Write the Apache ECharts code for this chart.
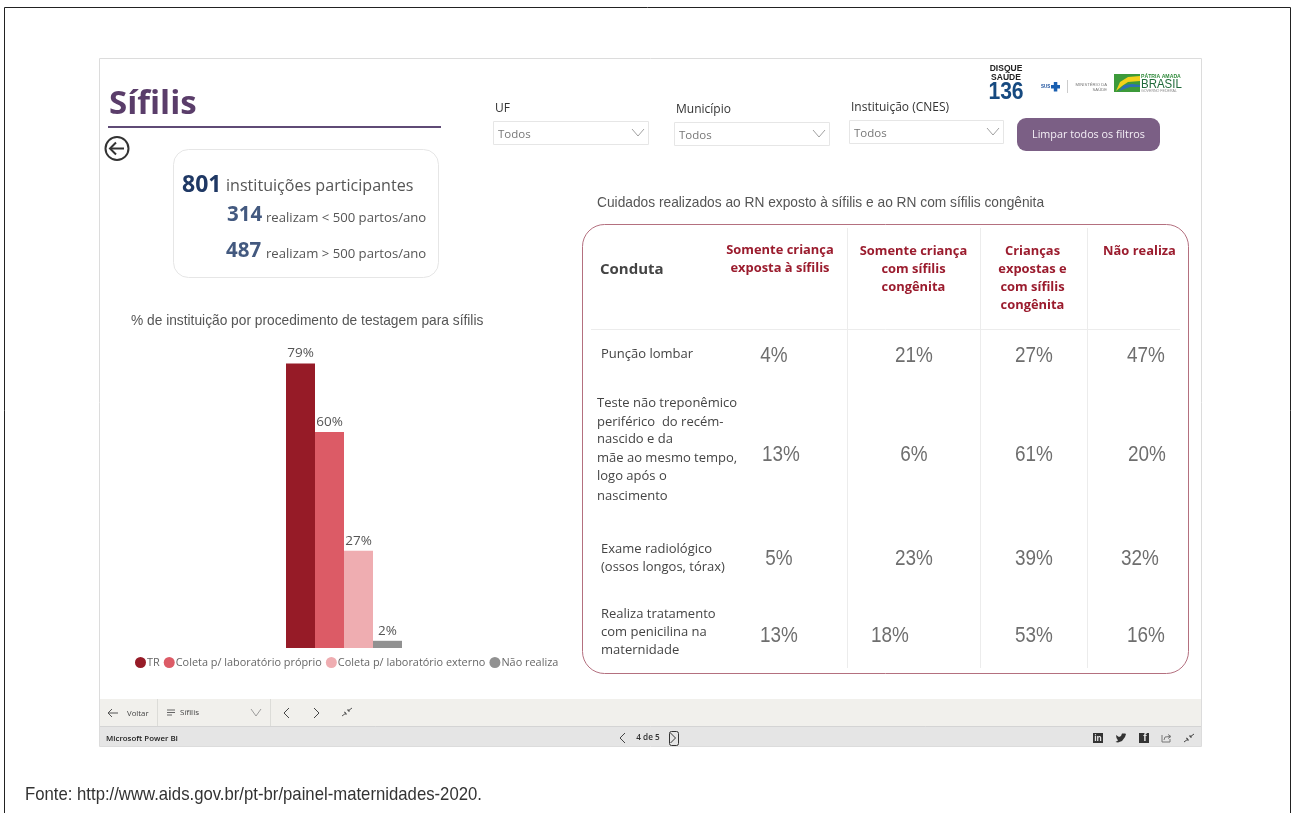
<!DOCTYPE html>
<html lang="pt-BR">
<head>
<meta charset="utf-8">
<title>Sífilis</title>
<script src="https://cdn.jsdelivr.net/npm/echarts@6/dist/echarts.min.js"></script>
<style>
  html, body { margin: 0; padding: 0; background: #fff; }
  #chart { width: 1292px; height: 813px; }
</style>
</head>
<body>
<div id="chart"></div>
<script>
// Procedimentos de testagem
const testCategories = ['Testagem'];
const testNames = ['TR', 'Coleta p/ laboratório próprio', 'Coleta p/ laboratório externo', 'Não realiza'];
const testValues = [79, 60, 27, 2];
const testColors = ['#961b27', '#dc5b66', '#efadb1', '#919191'];

// Cuidados ao RN
const careHeaders = [
  ['Somente criança', 'exposta à sífilis'],
  ['Somente criança', 'com sífilis', 'congênita'],
  ['Crianças', 'expostas e', 'com sífilis', 'congênita'],
  ['Não realiza']
];
const careRows = [
  ['Punção lombar'],
  ['Teste não treponêmico', 'periférico  do recém-', 'nascido e da', 'mãe ao mesmo tempo,', 'logo após o', 'nascimento'],
  ['Exame radiológico', '(ossos longos, tórax)'],
  ['Realiza tratamento', 'com penicilina na', 'maternidade']
];
const careValues = [
  [4, 21, 27, 47],
  [13, 6, 61, 20],
  [5, 23, 39, 32],
  [13, 18, 53, 16]
];

// Painel
const filterLabels = ['UF', 'Município', 'Instituição (CNES)'];
const filterValue = 'Todos';
const totalCount = 801;
const smallCount = 314;
const largeCount = 487;

const SANS = '"Open Sans", sans-serif';
const ARIAL = '"Liberation Sans", sans-serif';

const els = [];
function txt(x, y, text, size, fill, opts) {
  const o = opts || {};
  // Open Sans sits slightly high in its line box
  const dy = o.family ? 0 : 1;
  els.push({
    type: 'text', silent: true, z: o.z || 5,
    x, y: y + dy, scaleX: o.scaleX || 1,
    style: {
      x: 0, y: 0, text, fill,
      font: (o.weight || 'normal') + ' ' + size + 'px ' + (o.family || SANS),
      textAlign: o.align || 'left', textVerticalAlign: 'middle'
    }
  });
}
function box(x, y, w, h, fill, stroke, r, lw, z) {
  els.push({
    type: 'rect', silent: true, z: z || 1,
    shape: { x, y, width: w, height: h, r: r || 0 },
    style: { fill: fill || 'none', stroke: stroke || 'none', lineWidth: lw || 1 }
  });
}
function seg(x1, y1, x2, y2, stroke, lw, z) {
  els.push({
    type: 'line', silent: true, z: z || 2,
    shape: { x1, y1, x2, y2 },
    style: { stroke, lineWidth: lw || 1 }
  });
}
function poly(points, stroke, lw) {
  els.push({
    type: 'polyline', silent: true, z: 3,
    shape: { points },
    style: { stroke, lineWidth: lw || 1, fill: 'none' }
  });
}
function shape(points, fill) {
  els.push({ type: 'polygon', silent: true, z: 3, shape: { points }, style: { fill } });
}
function chevronDown(cx, cy, half) {
  const h = half || 6;
  poly([[cx - h, cy - 4], [cx, cy + 3], [cx + h, cy - 4]], '#888', 0.8);
}
function chevronLeft(cx, cy, c) { poly([[cx + 3, cy - 5], [cx - 2, cy], [cx + 3, cy + 5]], c || '#444', 1); }
function chevronRight(cx, cy, c) { poly([[cx - 3, cy - 5], [cx + 2, cy], [cx - 3, cy + 5]], c || '#444', 1); }
function collapseIcon(cx, cy, c) {
  seg(cx - 5, cy + 4, cx - 1, cy + 1, c, 1, 3);
  seg(cx + 1, cy - 1, cx + 5, cy - 4, c, 1, 3);
  poly([[cx - 3, cy + 0], [cx - 1, cy + 1], [cx - 1, cy + 3]], c, 1);
  poly([[cx + 1, cy - 3], [cx + 1, cy - 1], [cx + 3, cy - 1]], c, 1);
}

// Moldura externa e relatório
box(4.5, 7.5, 1286, 830, '#fff', '#222', 0, 1, 0);
box(99.5, 58.5, 1102, 688, '#fff', '#dcdcdc', 0, 1, 0);
box(100, 699, 1101, 27, '#f1f0ec');
box(100, 726, 1101, 20, '#e5e5e5');
seg(100, 726.5, 1201, 726.5, '#d4d4d4');

// Título
txt(109, 104, 'Sífilis', 33, '#5a3d6a', { weight: 'bold' });
seg(108, 127, 441, 127, '#5f4b76', 2);
els.push({ type: 'circle', silent: true, z: 3, shape: { cx: 117, cy: 148.5, r: 11.5 }, style: { fill: 'none', stroke: '#333', lineWidth: 2 } });
seg(110, 148.5, 124, 148.5, '#333', 2, 3);
poly([[116, 142.5], [110, 148.5], [116, 154.5]], '#333', 2);

// Cartão de totais
box(173.5, 149.5, 265, 128, '#fff', '#e6e6e6', 15);
txt(182, 184, String(totalCount), 23, '#1f3864', { weight: 'bold' });
txt(226, 185, 'instituições participantes', 16.1, '#555');
txt(227, 214, String(smallCount), 20.5, '#43597f', { weight: 'bold' });
txt(266, 217, 'realizam < 500 partos/ano', 13.15, '#555');
txt(226, 250, String(largeCount), 20.5, '#43597f', { weight: 'bold' });
txt(266, 253, 'realizam > 500 partos/ano', 13.15, '#555');

// Título do gráfico de barras
txt(131, 321, '% de instituição por procedimento de testagem para sífilis', 13.75, '#555', { family: ARIAL });

// Filtros
const filterLayout = [
  { lx: 495, ly: 108, bx: 493, by: 121, w: 155 },
  { lx: 676, ly: 109, bx: 674, by: 122, w: 155 },
  { lx: 851, ly: 107, bx: 849, by: 120, w: 154 }
];
filterLabels.forEach((label, i) => {
  const f = filterLayout[i];
  txt(f.lx, f.ly, label, 12, '#333');
  box(f.bx + 0.5, f.by + 0.5, f.w, 23, '#fff', '#e6e6e6');
  txt(f.bx + 5, f.by + 13, filterValue, 11.5, '#777');
  chevronDown(f.bx + f.w - 10, f.by + 12);
});
box(1017, 118, 143, 33, '#7b5f85', null, 9);
txt(1088.5, 133.5, 'Limpar todos os filtros', 10.8, '#f4eff6', { align: 'center' });

// Logotipos
txt(1006, 69, 'DISQUE', 8.5, '#222', { weight: 'bold', align: 'center', family: ARIAL });
txt(1006, 78, 'SAÚDE', 8.5, '#222', { weight: 'bold', align: 'center', family: ARIAL });
txt(1006, 92, '136', 24, '#174a80', { weight: 'bold', align: 'center', family: ARIAL, scaleX: 0.88 });
txt(1041, 87, 'SUS', 4.5, '#1a4f9c', { weight: 'bold', family: ARIAL });
box(1051, 85, 9, 3.5, '#1a5fb0', null, 0, 1, 3);
box(1053.8, 82, 3.5, 9.5, '#1a5fb0', null, 0, 1, 3);
seg(1067.5, 80, 1067.5, 93, '#ccc');
txt(1107, 84.5, 'MINISTÉRIO DA', 4.2, '#777', { align: 'right', family: ARIAL });
txt(1107, 90, 'SAÚDE', 4.2, '#777', { align: 'right', family: ARIAL });
box(1114, 74, 26, 18, '#3c9a3a', null, 0, 1, 2);
shape([[1116, 91], [1120, 82], [1128, 77], [1140, 76], [1140, 81], [1128, 82], [1122, 86]], '#f2d21b');
shape([[1119, 91], [1124, 85], [1132, 84], [1140, 85], [1140, 87], [1130, 87]], '#2d6fb5');
txt(1141, 76.5, 'PÁTRIA AMADA', 6, '#2f8a3a', { weight: 'bold', family: ARIAL, scaleX: 0.86 });
txt(1141, 84.5, 'BRASIL', 13.5, '#1f6a3a', { family: ARIAL, scaleX: 0.85 });
txt(1141, 91, 'GOVERNO FEDERAL', 3.6, '#888', { family: ARIAL });

// Tabela de cuidados
txt(597, 203, 'Cuidados realizados ao RN exposto à sífilis e ao RN com sífilis congênita', 13.75, '#555', { family: ARIAL });
box(582.5, 224.5, 606, 449, '#fff', '#b4707f', 22);
seg(591, 329.5, 1180, 329.5, '#ececec');
[847.5, 980.5, 1087.5].forEach(x => seg(x, 228, x, 668, '#ececec'));
txt(600, 269, 'Conduta', 15, '#444', { weight: 'bold' });

const headerLayout = [
  { x: 780, y: 249 },
  { x: 913.5, y: 250 },
  { x: 1032.5, y: 250 },
  { x: 1139.5, y: 250 }
];
careHeaders.forEach((lines, c) => {
  lines.forEach((line, i) => {
    txt(headerLayout[c].x, headerLayout[c].y + i * 18.2, line, 12.9, '#9b1c2e', { weight: 'bold', align: 'center' });
  });
});

const rowLabelLayout = [
  { x: 601, ys: [353] },
  { x: 597, ys: [402, 421, 438, 457, 475, 495] },
  { x: 601, ys: [548, 566] },
  { x: 601, ys: [613, 631, 649] }
];
careRows.forEach((lines, r) => {
  lines.forEach((line, i) => {
    txt(rowLabelLayout[r].x, rowLabelLayout[r].ys[i], line, 13, '#444');
  });
});

const valueRowY = [356, 455, 559, 636];
const valueColX = [
  [774, 914, 1034, 1146],
  [781, 914, 1034, 1147],
  [779, 914, 1034, 1140],
  [779, 890, 1034, 1146]
];
careValues.forEach((row, r) => {
  row.forEach((v, c) => {
    txt(valueColX[r][c], valueRowY[r], v + '%', 22, '#6e6e6e', { align: 'center', family: ARIAL, scaleX: 0.86 });
  });
});

// Barra de navegação
seg(108, 713, 118, 713, '#555');
poly([[112, 709], [108, 713], [112, 717]], '#555', 1);
txt(127, 713, 'Voltar', 7.8, '#444');
seg(157.5, 699, 157.5, 726, '#dcdcd8');
[710, 712.5, 715].forEach((y, i) => seg(167, y, i === 2 ? 172 : 175, y, '#666'));
txt(180, 712, 'Sífilis', 8, '#444');
chevronDown(256, 713, 5);
seg(270.5, 699, 270.5, 726, '#dcdcd8');
chevronLeft(286, 713);
chevronRight(317, 713);
collapseIcon(347, 712, '#555');

// Rodapé do Power BI
txt(106, 738, 'Microsoft Power BI', 7.9, '#222', { weight: '600' });
chevronLeft(622, 738);
txt(648, 737, '4 de 5', 8.2, '#333', { align: 'center', weight: '600' });
box(669.5, 731.5, 9, 14, 'none', '#333', 2, 1, 3);
chevronRight(673.5, 738, '#333');
box(1093, 733, 10, 10, '#333', null, 0, 1, 3);
txt(1098, 738, 'in', 8, '#e5e5e5', { weight: 'bold', align: 'center', z: 6 });
shape([[1116, 735], [1119, 737], [1121, 736], [1122, 733.5], [1125, 733.5], [1126, 734], [1125, 737],
  [1122, 741], [1118, 742.5], [1115.5, 742], [1118, 740.5], [1116.5, 738]], '#333');
box(1139, 733, 10, 10, '#333', null, 0, 1, 3);
txt(1145, 738.5, 'f', 10, '#e5e5e5', { weight: 'bold', align: 'center', z: 6, family: ARIAL });
poly([[1162, 735], [1162, 742], [1170, 742], [1170, 739]], '#777', 1);
poly([[1164, 740], [1165, 737], [1170, 736.5]], '#777', 1);
poly([[1168, 734.5], [1171, 736.5], [1168, 738.5]], '#777', 1);
collapseIcon(1189, 738, '#444');

// Fonte
txt(25, 794.5, 'Fonte: http://www.aids.gov.br/pt-br/painel-maternidades-2020.', 19, '#333', { family: ARIAL, scaleX: 0.88 });

const chart = echarts.init(document.getElementById('chart'), null, { renderer: 'canvas' });
chart.setOption({
  animation: false,
  backgroundColor: '#fff',
  grid: { left: 286, top: 360, width: 116, height: 288, containLabel: false },
  xAxis: {
    type: 'category', data: testCategories,
    axisLine: { show: false }, axisTick: { show: false }, axisLabel: { show: false }
  },
  yAxis: {
    type: 'value', min: 0, max: 80,
    axisLine: { show: false }, axisTick: { show: false },
    axisLabel: { show: false }, splitLine: { show: false }
  },
  legend: {
    left: 135, top: 657, padding: 0, itemGap: 4, itemWidth: 11, itemHeight: 11, icon: 'circle',
    data: testNames, selectedMode: false,
    textStyle: { fontFamily: SANS, fontSize: 10.9, color: '#666', padding: [0, 0, 0, -4] }
  },
  series: testNames.map((name, i) => ({
    name, type: 'bar', z: 4, barWidth: 29, barGap: 0,
    data: [testValues[i]],
    itemStyle: { color: testColors[i] },
    label: {
      show: true, position: 'top', distance: 3,
      formatter: '{c}%', fontFamily: SANS, fontSize: 13.5, color: '#555'
    }
  })),
  graphic: { elements: els }
});
</script>
</body>
</html>
